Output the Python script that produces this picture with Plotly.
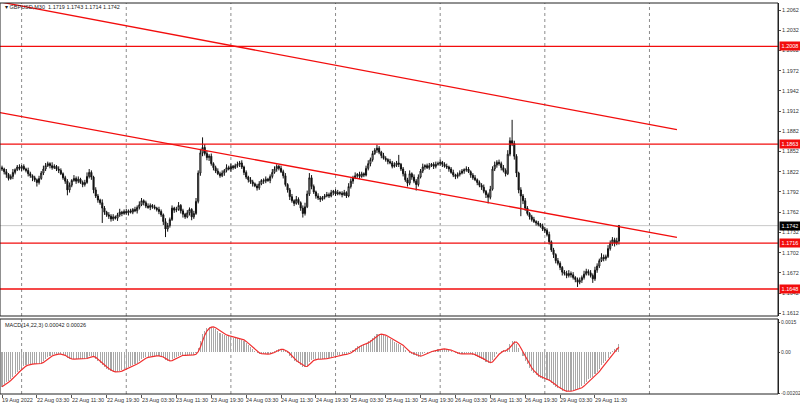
import numpy as np
import plotly.graph_objects as go

# ---------------- data ----------------
SYMBOL_TITLE = "GBPUSD,M30  1.1719 1.1743 1.1714 1.1742"
MACD_TITLE = "MACD(14,22,3) 0.00042 0.00026"

FIRST_OPEN_PIPS = 11828
CLOSE_PIPS = [
    11826, 11822, 11818, 11812, 11815, 11821, 11825, 11829, 11827, 11830,
    11826, 11824, 11819, 11816, 11813, 11810, 11806, 11812, 11820, 11826,
    11831, 11834, 11831, 11828, 11830, 11826, 11824, 11819, 11813, 11808,
    11795, 11802, 11809, 11812, 11808, 11811, 11806, 11803, 11806, 11815,
    11821, 11814, 11795, 11786, 11780, 11776, 11768, 11762, 11758, 11756,
    11752, 11755, 11753, 11758, 11762, 11760, 11763, 11761, 11764, 11762,
    11766, 11764, 11769, 11773, 11779, 11776, 11771, 11769, 11772, 11770,
    11768, 11766, 11763, 11758, 11748, 11737, 11742, 11751, 11768, 11765,
    11766, 11772, 11764, 11759, 11755, 11761, 11766, 11755, 11760, 11778,
    11820, 11850, 11858, 11849, 11843, 11845, 11834, 11828, 11823, 11819,
    11816, 11820, 11824, 11828, 11826, 11830, 11828, 11831, 11833, 11835,
    11829, 11821, 11814, 11810, 11807, 11804, 11801, 11798, 11804, 11809,
    11808, 11811, 11809, 11815, 11821, 11826, 11830, 11827, 11822, 11816,
    11803, 11795, 11785, 11779, 11775, 11781, 11776, 11768, 11760, 11770,
    11789, 11813, 11800, 11792, 11786, 11783, 11781, 11784, 11786, 11788,
    11786, 11791, 11793, 11789, 11791, 11790, 11788, 11791, 11786, 11800,
    11808, 11813, 11816, 11818, 11815, 11819, 11817, 11827, 11834, 11840,
    11849, 11854, 11857, 11851, 11846, 11842, 11840, 11837, 11835, 11830,
    11832, 11835, 11833, 11826, 11819, 11810, 11805, 11819, 11814, 11808,
    11803, 11814, 11823, 11829, 11831, 11828, 11831, 11833, 11830, 11833,
    11834, 11836, 11833, 11830, 11829, 11826, 11821, 11817, 11815, 11818,
    11820, 11823, 11825, 11826, 11822, 11817, 11813, 11810, 11806, 11802,
    11799, 11793, 11788, 11784, 11796, 11826, 11832, 11836, 11834, 11828,
    11824, 11819, 11848, 11868, 11864, 11845, 11820, 11795, 11786, 11779,
    11768, 11760, 11755, 11751, 11748, 11746, 11744, 11741, 11737, 11735,
    11729, 11718, 11706, 11699, 11690, 11686, 11680, 11673, 11671, 11668,
    11671, 11669, 11665, 11662, 11658, 11661, 11665, 11670, 11674, 11672,
    11668, 11663, 11676, 11682, 11690, 11695, 11693, 11696, 11708, 11716,
    11721, 11716, 11719, 11742,
]
UPPER_WICK_PIPS = [
    3, 2, 4, 2, 3, 5, 2, 3, 4, 2,
    3, 2, 4, 3, 2, 3, 2, 4, 3, 5,
    4, 3, 2, 5, 3, 2, 4, 3, 2, 3,
    3, 4, 2, 5, 3, 4, 2, 3, 4, 6,
    5, 3, 2, 4, 3, 2, 5, 3, 2, 4,
    3, 4, 2, 3, 5, 2, 3, 4, 2, 3,
    2, 4, 3, 5, 4, 2, 3, 4, 3, 2,
    3, 2, 4, 3, 2, 5, 4, 3, 4, 2,
    4, 5, 2, 3, 2, 4, 3, 2, 4, 5,
    4, 6, 15, 5, 4, 3, 4, 2, 3, 4,
    3, 4, 2, 5, 3, 4, 2, 3, 4, 3,
    4, 2, 3, 2, 4, 3, 2, 3, 4, 2,
    3, 4, 2, 3, 5, 4, 3, 2, 4, 3,
    4, 2, 3, 4, 2, 5, 3, 2, 4, 6,
    5, 7, 4, 3, 2, 4, 3, 2, 3, 4,
    3, 4, 2, 3, 4, 2, 3, 4, 2, 5,
    4, 3, 5, 2, 4, 3, 2, 4, 5, 3,
    4, 3, 5, 3, 2, 4, 3, 2, 4, 3,
    4, 3, 12, 2, 3, 4, 3, 5, 2, 4,
    3, 4, 3, 5, 2, 3, 4, 2, 3, 4,
    3, 4, 2, 3, 4, 2, 3, 4, 2, 3,
    4, 3, 2, 4, 3, 2, 3, 4, 2, 3,
    3, 4, 2, 3, 5, 4, 5, 3, 4, 3,
    4, 3, 6, 5, 31, 4, 3, 2, 4, 3,
    4, 3, 2, 3, 4, 2, 3, 2, 4, 3,
    3, 4, 2, 3, 2, 4, 3, 2, 3, 4,
    5, 3, 4, 2, 3, 4, 3, 5, 4, 3,
    4, 3, 5, 4, 3, 6, 4, 3, 5, 4,
    4, 3, 5, 1,
]
LOWER_WICK_PIPS = [
    3, 4, 5, 3, 2, 4, 3, 2, 3, 4,
    2, 3, 4, 3, 5, 3, 6, 3, 2, 3,
    3, 2, 4, 3, 2, 3, 4, 2, 3, 4,
    8, 4, 3, 2, 4, 3, 2, 4, 3, 2,
    3, 4, 5, 3, 4, 3, 22, 4, 3, 4,
    4, 3, 2, 4, 3, 4, 2, 3, 4, 2,
    3, 2, 4, 3, 2, 4, 3, 2, 4, 3,
    2, 3, 4, 3, 5, 12, 4, 3, 2, 4,
    3, 2, 4, 5, 3, 2, 4, 5, 3, 2,
    3, 4, 5, 3, 4, 5, 3, 4, 3, 2,
    3, 2, 4, 3, 2, 4, 3, 2, 3, 4,
    3, 4, 3, 4, 3, 4, 2, 4, 3, 2,
    4, 3, 2, 4, 3, 2, 4, 3, 2, 4,
    3, 4, 5, 3, 4, 2, 3, 4, 6, 3,
    2, 3, 4, 3, 4, 3, 4, 2, 3, 2,
    3, 2, 4, 3, 2, 3, 4, 2, 3, 2,
    3, 4, 2, 3, 4, 2, 3, 2, 3, 4,
    3, 2, 4, 3, 4, 2, 3, 4, 2, 3,
    2, 3, 4, 3, 4, 3, 5, 3, 4, 3,
    9, 3, 2, 3, 4, 2, 3, 2, 4, 3,
    2, 3, 4, 2, 3, 4, 2, 3, 4, 3,
    3, 2, 4, 3, 2, 4, 3, 2, 4, 3,
    4, 3, 5, 9, 3, 2, 3, 4, 3, 4,
    3, 4, 2, 3, 4, 5, 6, 5, 30, 5,
    4, 3, 4, 3, 2, 4, 3, 2, 3, 4,
    3, 4, 3, 5, 4, 3, 4, 5, 3, 4,
    3, 4, 3, 4, 7, 3, 4, 3, 2, 4,
    3, 6, 3, 4, 3, 2, 4, 3, 2, 3,
    4, 5, 3, 5,
]

X_LABELS = ["19 Aug 2022", "22 Aug 03:30", "22 Aug 11:30", "22 Aug 19:30",
            "23 Aug 03:30", "23 Aug 11:30", "23 Aug 19:30", "24 Aug 03:30",
            "24 Aug 11:30", "24 Aug 19:30", "25 Aug 03:30", "25 Aug 11:30",
            "25 Aug 19:30", "26 Aug 03:30", "26 Aug 11:30", "26 Aug 19:30",
            "29 Aug 03:30", "29 Aug 11:30"]
X_LABEL_BARS = [0, 16, 32, 48, 64, 80, 96, 112, 128, 144, 160, 176,
                192, 208, 224, 240, 256, 272]
DAY_GRID_BARS = [9, 57, 105, 153, 201, 249, 297]

PRICE_TICKS = [1.1612, 1.1642, 1.1672, 1.1702, 1.1732, 1.1762, 1.1792, 1.1822,
               1.1852, 1.1882, 1.1912, 1.1942, 1.1972, 1.2002, 1.2032, 1.2062]
LEVELS = [1.2008, 1.1863, 1.1716, 1.1648]
LAST_PRICE = 1.1742
UPPER_TREND = [(-0.92, 1.2074), (309.6, 1.18844)]
LOWER_TREND = [(-0.92, 1.19096), (309.6, 1.17246)]

MACD_TICKS = [0.0015, 0.0, -0.00202]
MACD_TICK_TEXT = ["0.0015", "0.00", "-0.00202"]
MACD_START = -0.0017   # histogram value at the first visible bar
MACD_FAST, MACD_SLOW, MACD_SIGNAL = 14, 22, 3

# ---------------- derived series ----------------
N = len(CLOSE_PIPS)
x = np.arange(N)
close = np.array(CLOSE_PIPS) / 10000.0
opn = np.concatenate([[FIRST_OPEN_PIPS / 10000.0], close[:-1]])
high = np.maximum(opn, close) + np.array(UPPER_WICK_PIPS) / 10000.0
low = np.minimum(opn, close) - np.array(LOWER_WICK_PIPS) / 10000.0

af = 2.0 / (MACD_FAST + 1)
asl = 2.0 / (MACD_SLOW + 1)
fast = np.empty(N)
slow = np.empty(N)
fast[0] = close[0]
slow[0] = close[0] - MACD_START
for i in range(1, N):
    fast[i] = fast[i - 1] + af * (close[i] - fast[i - 1])
    slow[i] = slow[i - 1] + asl * (close[i] - slow[i - 1])
macd = fast - slow
signal = np.array([macd[max(0, i - MACD_SIGNAL + 1):i + 1].mean() for i in range(N)])

# ---------------- geometry ----------------
W, H = 800, 408
ML, MR, MT, MB = 0, 22, 3, 14
PX_PER_BAR = 2.18
X0_PX = 2.0
XR = [-X0_PX / PX_PER_BAR, (W - ML - MR - X0_PX) / PX_PER_BAR]
PLOT_H = H - MT - MB


def py(pix):  # pixel row -> paper y
    return (H - MB - pix) / PLOT_H


MAIN_DOM = [py(316), 1.0]
MACD_DOM = [0.0, py(319)]
Y_RANGE = [1.207684 - 0.0001484 * 316, 1.207684 - 0.0001484 * 3]

RED = "#f20d0d"
TXT = "#333333"
FONT = "Liberation Sans"
FS = 5.5

fig = go.Figure()
fig.add_trace(go.Candlestick(
    x=x, open=opn, high=high, low=low, close=close,
    increasing=dict(line=dict(color="#111111", width=1), fillcolor="#ffffff"),
    decreasing=dict(line=dict(color="#111111", width=1), fillcolor="#111111"),
    whiskerwidth=0, xaxis="x", yaxis="y", showlegend=False, hoverinfo="skip"))
fig.add_trace(go.Bar(
    x=x, y=macd, width=0.5, marker=dict(color="#a8a8a8", line=dict(width=0)),
    xaxis="x2", yaxis="y2", showlegend=False, hoverinfo="skip"))
fig.add_trace(go.Scatter(
    x=x, y=signal, mode="lines", line=dict(color="#f03030", width=1.2),
    xaxis="x2", yaxis="y2", showlegend=False, hoverinfo="skip"))

shapes = []
for b in DAY_GRID_BARS:
    shapes.append(dict(type="line", xref="x", yref="paper", x0=b, x1=b, y0=0, y1=1,
                       line=dict(color="#8c8c8c", width=1, dash="dot"), layer="below"))
shapes.append(dict(type="line", xref="paper", yref="y", x0=0, x1=1,
                   y0=LAST_PRICE, y1=LAST_PRICE, line=dict(color="#c8c8c8", width=1),
                   layer="below"))
for lv in LEVELS:
    shapes.append(dict(type="line", xref="paper", yref="y", x0=0, x1=1, y0=lv, y1=lv,
                       line=dict(color=RED, width=1.3)))
for (xa, ya), (xb, yb) in (UPPER_TREND, LOWER_TREND):
    shapes.append(dict(type="line", xref="x", yref="y", x0=xa, y0=ya, x1=xb, y1=yb,
                       line=dict(color=RED, width=1.3)))
shapes.append(dict(type="rect", xref="paper", yref="paper", x0=0, x1=1,
                   y0=MAIN_DOM[0], y1=MAIN_DOM[1], line=dict(color="#222222", width=1)))
shapes.append(dict(type="rect", xref="paper", yref="paper", x0=0, x1=1,
                   y0=MACD_DOM[0], y1=MACD_DOM[1], line=dict(color="#222222", width=1)))

ann = []
ann.append(dict(xref="paper", yref="paper", x=0.004, y=py(7), text="▾ " + SYMBOL_TITLE,
                showarrow=False, xanchor="left", yanchor="middle",
                font=dict(family=FONT, size=FS, color="#222222")))
ann.append(dict(xref="paper", yref="paper", x=0.004, y=py(325), text=MACD_TITLE,
                showarrow=False, xanchor="left", yanchor="middle",
                font=dict(family=FONT, size=FS, color="#222222")))
for b, t in zip(X_LABEL_BARS, X_LABELS):
    ann.append(dict(xref="x2", yref="paper", x=b, y=py(400), text=t, showarrow=False,
                    xanchor="left", yanchor="middle", xshift=-2,
                    font=dict(family=FONT, size=FS, color=TXT)))
for lv in LEVELS:
    ann.append(dict(xref="paper", yref="y", x=1.0, y=lv, text=f"{lv:.4f}", showarrow=False,
                    xanchor="left", yanchor="middle", bgcolor=RED, borderpad=1,
                    width=18, xshift=1,
                    font=dict(family=FONT, size=FS, color="#ffffff")))
ann.append(dict(xref="paper", yref="y", x=1.0, y=LAST_PRICE, text=f"{LAST_PRICE:.4f}",
                showarrow=False, xanchor="left", yanchor="middle", bgcolor="#000000",
                borderpad=1, width=18, xshift=1,
                font=dict(family=FONT, size=FS, color="#ffffff")))

fig.update_layout(
    width=W, height=H, margin=dict(l=ML, r=MR, t=MT, b=MB, autoexpand=False),
    paper_bgcolor="white", plot_bgcolor="white", bargap=0,
    xaxis=dict(domain=[0, 1], range=XR, anchor="y", showticklabels=False, showgrid=False,
               zeroline=False, rangeslider=dict(visible=False), fixedrange=True),
    xaxis2=dict(domain=[0, 1], range=XR, anchor="y2", matches="x", showgrid=False,
                zeroline=False, tickvals=X_LABEL_BARS, ticktext=[""] * len(X_LABEL_BARS),
                ticks="outside", ticklen=3, tickcolor="#555555", fixedrange=True),
    yaxis=dict(domain=MAIN_DOM, range=Y_RANGE,
               side="right", anchor="x", tickvals=PRICE_TICKS,
               ticktext=[f"{v:.4f}" for v in PRICE_TICKS], ticks="outside", ticklen=2,
               tickcolor="#555555", tickfont=dict(family=FONT, size=FS, color=TXT),
               showgrid=False, zeroline=False, showline=True, linecolor="#222222",
               linewidth=1, fixedrange=True, automargin=False),
    yaxis2=dict(domain=MACD_DOM, range=[-0.002064, 0.00165], side="right", anchor="x2",
                tickvals=MACD_TICKS, ticktext=MACD_TICK_TEXT, ticks="outside", ticklen=1,
                tickcolor="#555555", tickfont=dict(family=FONT, size=5, color=TXT),
                showgrid=False, zeroline=False, showline=True, linecolor="#222222",
                linewidth=1, fixedrange=True, automargin=False),
    shapes=shapes, annotations=ann,
)

fig.write_html(
    "out.html",
    config={"displayModeBar": False, "staticPlot": True},
    post_script="document.body.style.margin='0';document.body.style.overflow='hidden';",
)
